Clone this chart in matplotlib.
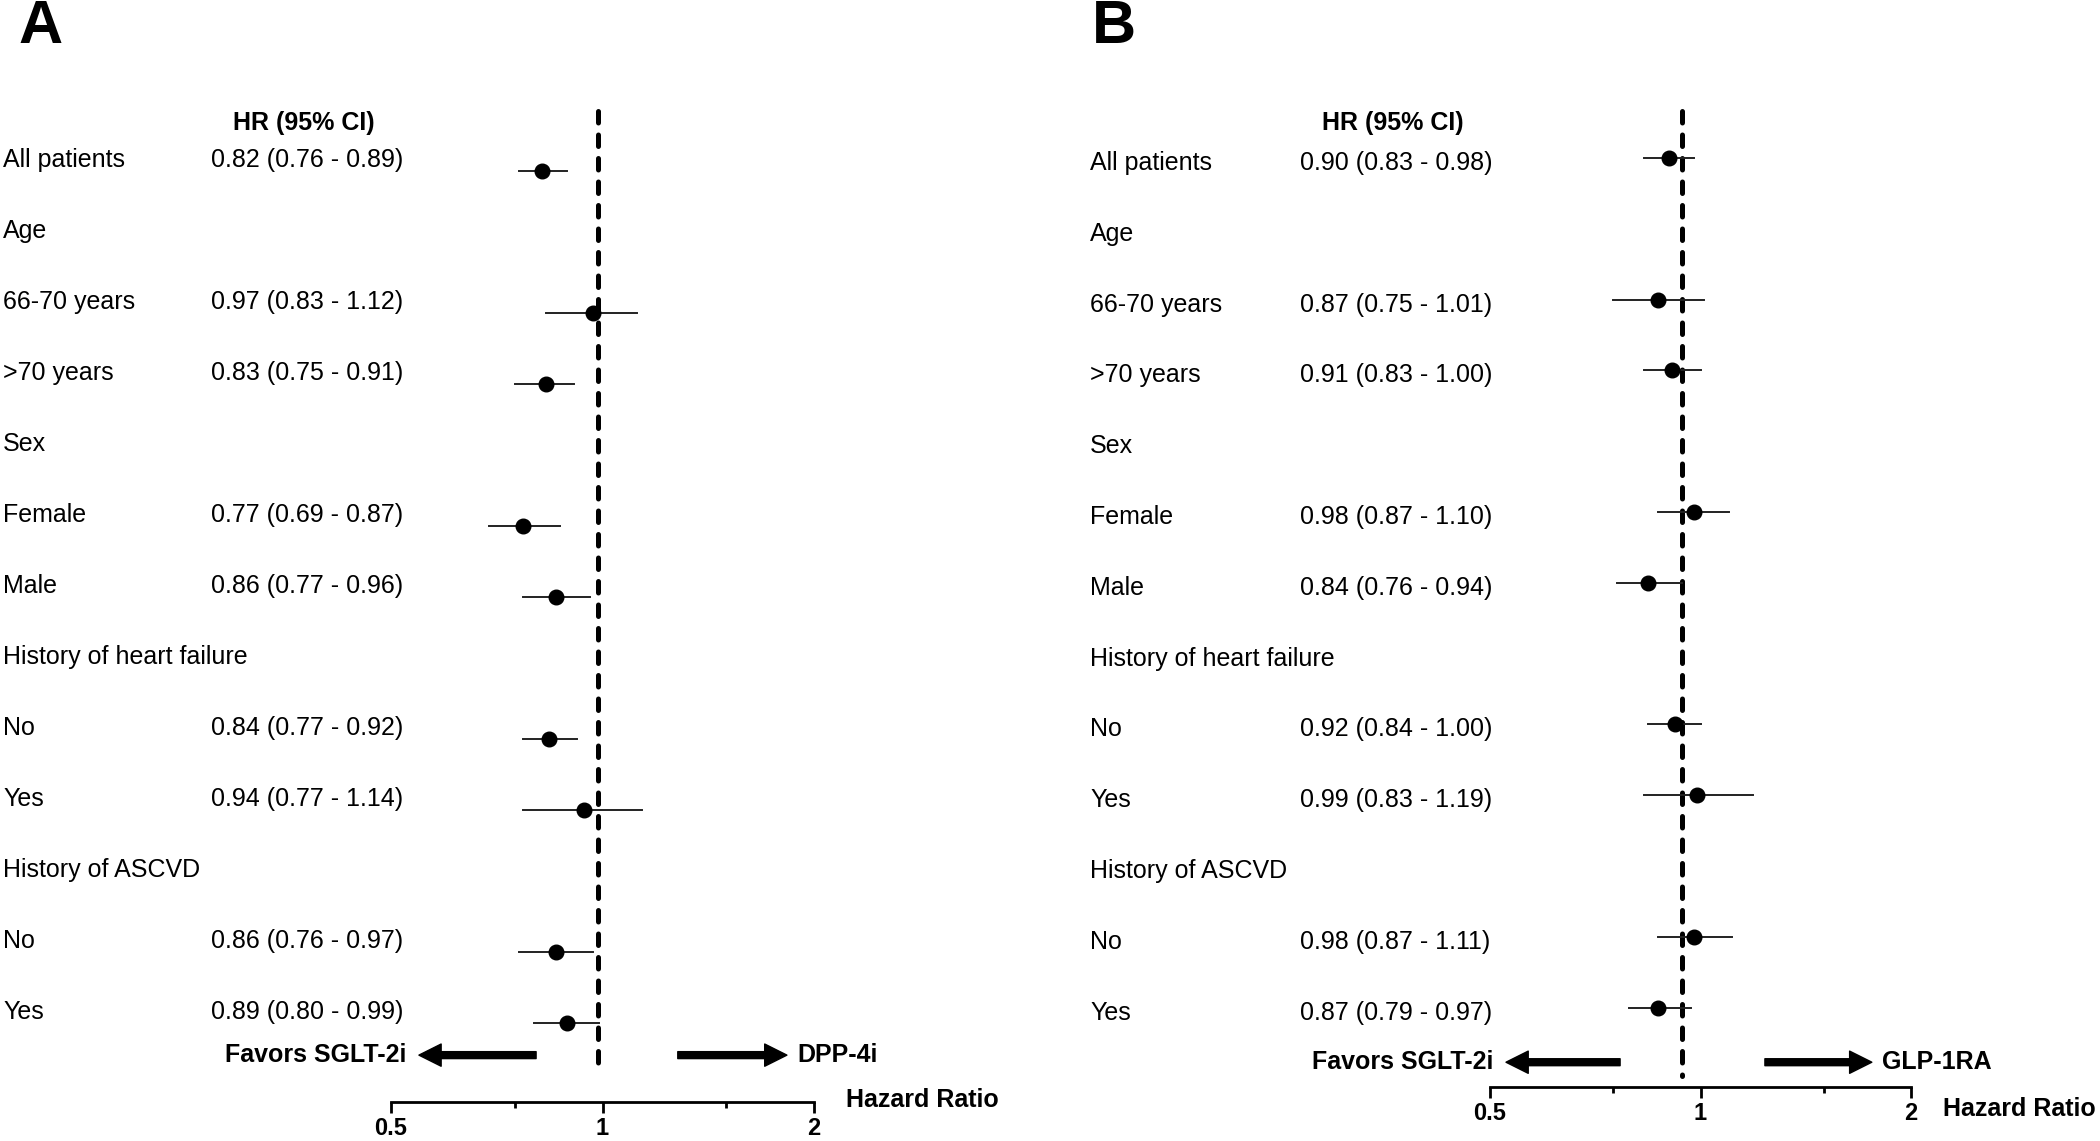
import matplotlib
matplotlib.use("Agg")
import matplotlib.pyplot as plt
from matplotlib.transforms import blended_transform_factory

plt.rcParams["font.family"] = ["Liberation Sans", "DejaVu Sans"]

# Rows from top to bottom, None = group heading without an estimate
row_labels = ["All patients", "Age", "66-70 years", ">70 years", "Sex", "Female", "Male",
              "History of heart failure", "No", "Yes", "History of ASCVD", "No", "Yes"]

# Panel A: SGLT-2i vs DPP-4i
hr_a = [0.82, None, 0.97, 0.83, None, 0.77, 0.86, None, 0.84, 0.94, None, 0.86, 0.89]
lo_a = [0.76, None, 0.83, 0.75, None, 0.69, 0.77, None, 0.77, 0.77, None, 0.76, 0.80]
hi_a = [0.89, None, 1.12, 0.91, None, 0.87, 0.96, None, 0.92, 1.14, None, 0.97, 0.99]

# Panel B: SGLT-2i vs GLP-1RA
hr_b = [0.90, None, 0.87, 0.91, None, 0.98, 0.84, None, 0.92, 0.99, None, 0.98, 0.87]
lo_b = [0.83, None, 0.75, 0.83, None, 0.87, 0.76, None, 0.84, 0.83, None, 0.87, 0.79]
hi_b = [0.98, None, 1.01, 1.00, None, 1.10, 0.94, None, 1.00, 1.19, None, 1.11, 0.97]

x_ticks = [0.5, 1, 2]
x_tick_labels = ["0.5", "1", "2"]
x_minor = [0.75, 1.5]

W, H = 2100, 1141
fig = plt.figure(figsize=(W / 100, H / 100), dpi=100)

FS = 18


def draw_panel(letter, letter_x, rect, ylim, hr, lo, hi, ref, comparator, arrow_pos,
               lab_x, hr_x, head_x, txt_off, arrow_y, hr_label_y):
    ax = fig.add_axes(rect)
    ax.set_xscale("log")
    ax.set_xlim(0.5, 2)
    ax.set_ylim(*ylim)
    for s in ["top", "right", "left"]:
        ax.spines[s].set_visible(False)
    ax.spines["bottom"].set_linewidth(2)
    ax.set_yticks([])
    ax.set_xticks(x_ticks)
    ax.set_xticklabels(x_tick_labels, fontweight="bold", fontsize=17)
    ax.set_xticks(x_minor, minor=True)
    ax.set_xticklabels([], minor=True)
    ax.tick_params(axis="x", which="major", length=8, width=2, pad=3)
    ax.tick_params(axis="x", which="minor", length=4, width=2)

    # reference line (sits a touch left of 1 in the source figure)
    ax.plot([ref, ref], [ylim[1] + 0.05, arrow_y + 0.2], ls=(0, (2.3, 2.4)), lw=3.6,
            color="black", dash_capstyle="round", clip_on=False)

    trans = blended_transform_factory(fig.transFigure, ax.transData)
    for i, lab in enumerate(row_labels):
        ax.text(lab_x, i + txt_off, lab, transform=trans, fontsize=FS, va="center", ha="left")
        if hr[i] is None:
            continue
        ax.plot([lo[i], hi[i]], [i, i], color="#222222", lw=1.4, clip_on=False)
        ax.plot(hr[i], i, "o", color="black", ms=10.5, clip_on=False)
        ax.text(hr_x, i + txt_off, f"{hr[i]:.2f} ({lo[i]:.2f} - {hi[i]:.2f})",
                transform=trans, fontsize=FS, va="center", ha="left")

    ax.text(head_x, ylim[1] + 0.22, "HR (95% CI)", transform=trans, fontsize=FS,
            fontweight="bold", va="center", ha="center")

    atrans = blended_transform_factory(ax.transAxes, ax.transData)
    aprops = dict(width=5, headwidth=16, headlength=16, shrink=0, color="black")
    ax.annotate("", xy=(arrow_pos[0][0], arrow_y), xytext=(arrow_pos[0][1], arrow_y),
                xycoords=atrans, textcoords=atrans, arrowprops=aprops)
    ax.annotate("", xy=(arrow_pos[1][1], arrow_y), xytext=(arrow_pos[1][0], arrow_y),
                xycoords=atrans, textcoords=atrans, arrowprops=aprops)
    ax.text(arrow_pos[0][0] - 0.03, arrow_y, "Favors SGLT-2i", transform=atrans,
            fontsize=FS, fontweight="bold", ha="right", va="center")
    ax.text(arrow_pos[1][1] + 0.025, arrow_y, comparator, transform=atrans,
            fontsize=FS, fontweight="bold", ha="left", va="center")

    ax.text(1.075, hr_label_y, "Hazard Ratio", transform=ax.transAxes, fontsize=FS,
            fontweight="bold", ha="left", va="center")

    fig.text(letter_x, 1 - 43 / H, letter, fontsize=44, fontweight="bold",
             va="baseline", ha="left")
    return ax


draw_panel("A", 18 / W, [391 / W, 1 - 1102 / H, 423 / W, 995 / H], (13.11, -0.9),
           hr_a, lo_a, hi_a, 0.985, "DPP-4i", [(0.066, 0.343), (0.678, 0.936)],
           3 / W, 211 / W, 304 / W, -0.16, 12.45, 0.002)

draw_panel("B", 1092 / W, [1490 / W, 1 - 1087 / H, 421 / W, 980 / H], (13.12, -0.72),
           hr_b, lo_b, hi_b, 0.94, "GLP-1RA", [(0.038, 0.309), (0.653, 0.907)],
           1090 / W, 1300 / W, 1393 / W, 0.07, 12.77, -0.022)

fig.savefig("out.png", dpi=100)
